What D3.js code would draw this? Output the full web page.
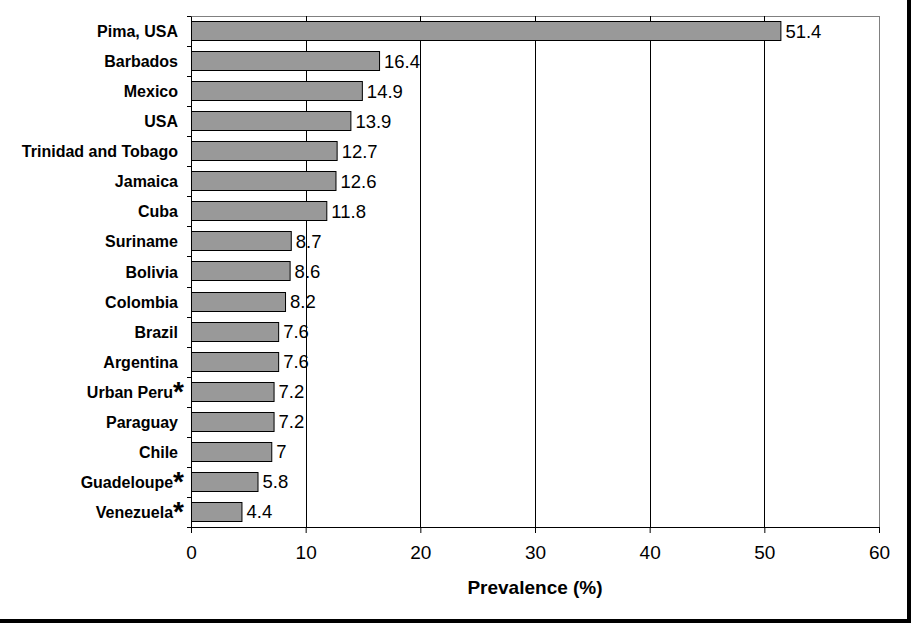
<!DOCTYPE html>
<html><head><meta charset="utf-8">
<script src="https://cdn.jsdelivr.net/npm/d3@7"></script>
<style>body{margin:0;background:#fff}svg{display:block}</style>
</head><body>
<script>
const categories = ["Pima, USA","Barbados","Mexico","USA","Trinidad and Tobago","Jamaica","Cuba","Suriname","Bolivia","Colombia","Brazil","Argentina","Urban Peru","Paraguay","Chile","Guadeloupe","Venezuela"];
const values = [51.4,16.4,14.9,13.9,12.7,12.6,11.8,8.7,8.6,8.2,7.6,7.6,7.2,7.2,7,5.8,4.4];
const valueLabels = ["51.4","16.4","14.9","13.9","12.7","12.6","11.8","8.7","8.6","8.2","7.6","7.6","7.2","7.2","7","5.8","4.4"];
const starred = ["Urban Peru","Guadeloupe","Venezuela"];
const xTicks = [0,10,20,30,40,50,60];
const xTitle = "Prevalence (%)";

const W = 911, H = 623;
const m = {left:191, top:16, right:32, bottom:96};
const pw = W - m.left - m.right, ph = H - m.top - m.bottom;

const svg = d3.select("body").append("svg").attr("width", W).attr("height", H)
  .style("font-family", "Arial, 'Liberation Sans', sans-serif");
svg.append("rect").attr("width", W).attr("height", H).attr("fill", "#fff");

const x = d3.scaleLinear().domain([0, 60]).range([0, pw]);
const y = d3.scaleBand().domain(categories).range([0, ph]).paddingInner(1/3).paddingOuter(1/6);

const g = svg.append("g").attr("transform", `translate(${m.left},${m.top})`);

// plot border (top & right gray)
g.append("line").attr("x1", 0).attr("x2", pw).attr("y1", 0.5).attr("y2", 0.5).attr("stroke", "#808080");
g.append("line").attr("x1", pw + 0.5).attr("x2", pw + 0.5).attr("y1", 0).attr("y2", ph).attr("stroke", "#808080");

// gridlines
g.selectAll(".grid").data(xTicks.filter(t => t > 0 && t < 60)).join("line")
  .attr("x1", d => Math.round(x(d)) + 0.5).attr("x2", d => Math.round(x(d)) + 0.5)
  .attr("y1", 0).attr("y2", ph).attr("stroke", "#000");

// bars
g.selectAll(".bar").data(categories).join("rect")
  .attr("x", 0.5).attr("y", d => Math.round(y(d)) + 0.5)
  .attr("width", (d, i) => x(values[i]))
  .attr("height", Math.round(y.bandwidth()) - 1)
  .attr("fill", "#999999").attr("stroke", "#000").attr("stroke-width", 1);

// value labels
g.selectAll(".val").data(categories).join("text")
  .attr("x", (d, i) => x(values[i]) + 5)
  .attr("y", d => y(d) + y.bandwidth() / 2 + 6.5)
  .attr("font-size", "18.5px").attr("fill", "#000")
  .text((d, i) => valueLabels[i]);

// x axis
const xa = g.append("g").attr("transform", `translate(0,${ph})`)
  .call(d3.axisBottom(x).tickValues(xTicks).tickSize(6).tickPadding(15).tickSizeOuter(0));
xa.select(".domain").attr("stroke", "#000");
xa.selectAll(".tick line").attr("stroke", "#000");
xa.selectAll(".tick text").attr("font-size", "19px").attr("font-family", "Arial, 'Liberation Sans', sans-serif").attr("fill", "#000").attr("dy", "0.6em");

// y axis
const ya = g.append("g")
  .call(d3.axisLeft(y).tickSize(0).tickFormat(() => ""));
ya.select(".domain").attr("stroke", "#000");
// boundary tick marks
const bounds = d3.range(categories.length + 1).map(i => i * y.step());
g.selectAll(".ytick").data(bounds).join("line")
  .attr("x1", -4).attr("x2", 0)
  .attr("y1", d => Math.round(d) + 0.5).attr("y2", d => Math.round(d) + 0.5)
  .attr("stroke", "#000");

// category labels
const cl = g.selectAll(".cat").data(categories).join("text")
  .attr("x", d => starred.includes(d) ? -7 : -13)
  .attr("y", d => y(d) + y.bandwidth() / 2 + 6)
  .attr("text-anchor", "end")
  .attr("font-size", "16px").attr("font-weight", "bold").attr("fill", "#000");
cl.append("tspan").text(d => d);
cl.filter(d => starred.includes(d)).append("tspan")
  .attr("font-size", "28px").attr("dy", "3").text("*");

// axis title
svg.append("text").attr("x", m.left + pw / 2).attr("y", 594)
  .attr("text-anchor", "middle").attr("font-size", "19px").attr("font-weight", "bold")
  .attr("fill", "#000").text(xTitle);

// frame (right & bottom)
svg.append("rect").attr("x", 0).attr("y", 619).attr("width", W).attr("height", 4).attr("fill", "#000");
svg.append("rect").attr("x", 907).attr("y", 0).attr("width", 4).attr("height", H).attr("fill", "#000");
</script>
</body></html>
